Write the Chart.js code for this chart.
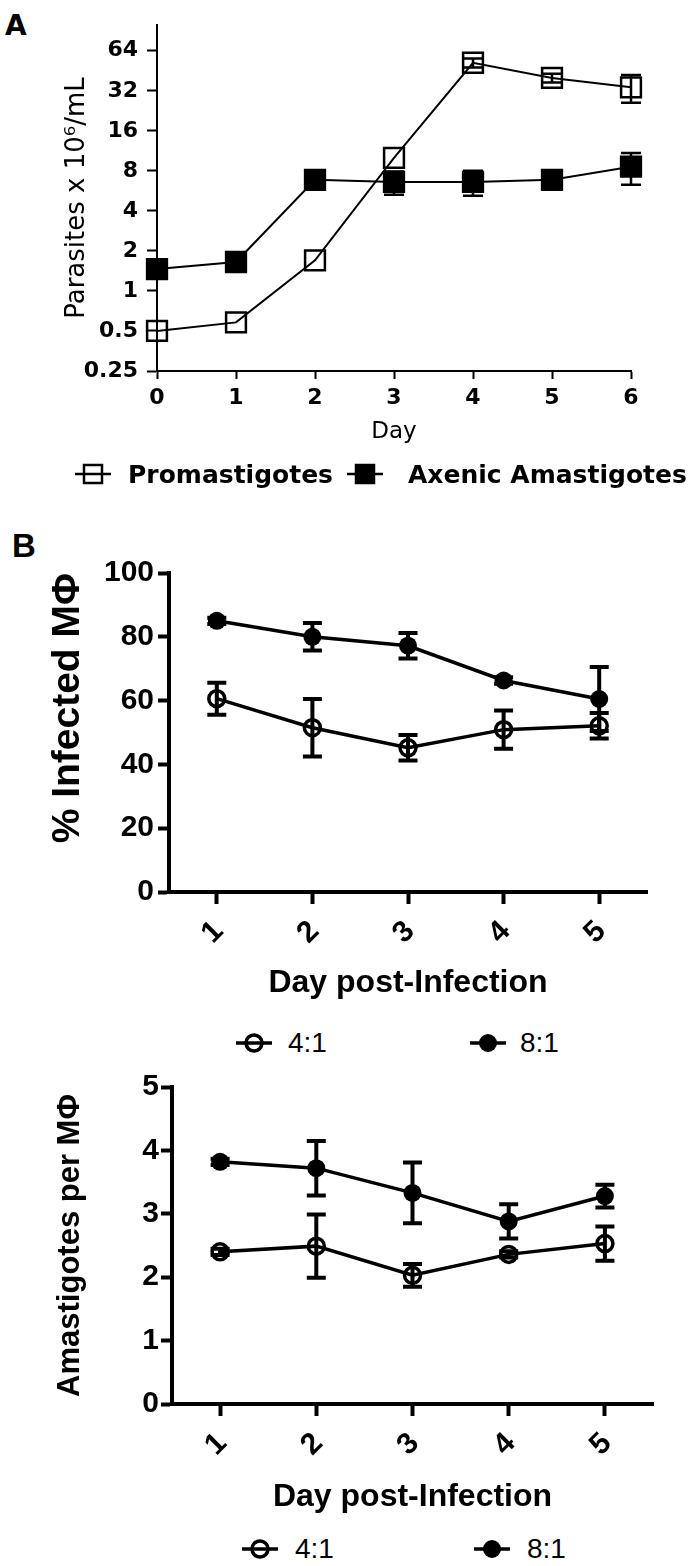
<!DOCTYPE html>
<html>
<head>
<meta charset="utf-8">
<script src="https://cdn.jsdelivr.net/npm/chart.js@4.4.1/dist/chart.umd.min.js"></script>
<style>
    body { margin: 0; background: #fff; }
    #page { position: relative; width: 700px; height: 1566px; overflow: hidden; background: #fff; }
    canvas { position: absolute; left: 0; }
    .letter { position: absolute; font-weight: bold; line-height: 1; color: #000; }
    .legend { position: absolute; height: 40px; display: flex; align-items: center; color: #000; line-height: 1; white-space: nowrap; }
    .legend-a { font-family: 'DejaVu Sans', sans-serif; font-weight: bold; font-size: 25px; }
    .legend-b { font-family: 'Liberation Sans', Arial, sans-serif; font-size: 28px; }
</style>
</head>
<body>
<div id="page">
    <div class="letter" style="left:5px; top:12px; font-family:'DejaVu Sans', sans-serif; font-size:28px;">A</div>
    <canvas id="chart-a" width="700" height="460" style="top:0px;"></canvas>

    <!-- panel A legend -->
    <div class="legend" style="left:75px; top:454px;">
        <svg width="36" height="26"><line x1="0" y1="13" x2="36" y2="13" stroke="#000" stroke-width="2.5"/><rect x="9" y="4" width="18" height="18" fill="none" stroke="#000" stroke-width="2.5"/></svg>
    </div>
    <div class="legend legend-a" style="left:128px; top:454px;">Promastigotes</div>
    <div class="legend" style="left:347px; top:454px;">
        <svg width="36" height="26"><line x1="0" y1="13" x2="36" y2="13" stroke="#000" stroke-width="2.5"/><rect x="9" y="4" width="18" height="18" fill="#000" stroke="#000" stroke-width="2.5"/></svg>
    </div>
    <div class="legend legend-a" style="left:408px; top:454px;">Axenic Amastigotes</div>

    <div class="letter" style="left:12px; top:529px; font-family:'Liberation Sans', Arial, sans-serif; font-size:33px;">B</div>
    <canvas id="chart-b1" width="700" height="490" style="top:520px;"></canvas>

    <!-- panel B1 legend -->
    <div class="legend" style="left:236px; top:1023px;">
        <svg width="36" height="26"><line x1="0" y1="13" x2="36" y2="13" stroke="#000" stroke-width="3.5"/><circle cx="18" cy="13" r="8" fill="none" stroke="#000" stroke-width="3.5"/></svg>
    </div>
    <div class="legend legend-b" style="left:288px; top:1023px;">4:1</div>
    <div class="legend" style="left:470px; top:1023px;">
        <svg width="36" height="26"><line x1="0" y1="13" x2="36" y2="13" stroke="#000" stroke-width="3.5"/><circle cx="18" cy="13" r="9" fill="#000"/></svg>
    </div>
    <div class="legend legend-b" style="left:520px; top:1023px;">8:1</div>

    <canvas id="chart-b2" width="700" height="480" style="top:1040px;"></canvas>

    <!-- panel B2 legend -->
    <div class="legend" style="left:242px; top:1529px;">
        <svg width="36" height="26"><line x1="0" y1="13" x2="36" y2="13" stroke="#000" stroke-width="3.5"/><circle cx="18" cy="13" r="8" fill="none" stroke="#000" stroke-width="3.5"/></svg>
    </div>
    <div class="legend legend-b" style="left:295px; top:1529px;">4:1</div>
    <div class="legend" style="left:474px; top:1529px;">
        <svg width="36" height="26"><line x1="0" y1="13" x2="36" y2="13" stroke="#000" stroke-width="3.5"/><circle cx="18" cy="13" r="9" fill="#000"/></svg>
    </div>
    <div class="legend legend-b" style="left:527px; top:1529px;">8:1</div>
</div>

<script>
// Panel A - parasite growth (log2 axis)
const daysA = ['0', '1', '2', '3', '4', '5', '6'];
const promastigotes = [0.5, 0.58, 1.7, 10, 52, 40, 34];
const promastigotesErr = [0, 0, 0, 0, 4, 3, 8];
const axenic = [1.46, 1.65, 6.85, 6.6, 6.6, 6.85, 8.6];
const axenicErr = [0.1, 0.1, 1.0, 1.3, 1.4, 0.4, 2.3];
const yTicksA = [0.25, 0.5, 1, 2, 4, 8, 16, 32, 64];
const yTickLabelsA = ['0.25', '0.5', '1', '2', '4', '8', '16', '32', '64'];

// Panel B - infection by MOI
const daysB = ['1', '2', '3', '4', '5'];
const infected41 = [60.6, 51.5, 45.2, 50.9, 52.1];
const infected41Err = [5, 9, 4, 6, 4];
const infected81 = [85, 80, 77.2, 66.3, 60.5];
const infected81Err = [1, 4.3, 4, 1, 10];
const amast41 = [2.4, 2.49, 2.03, 2.36, 2.53];
const amast41Err = [0.05, 0.5, 0.18, 0.05, 0.27];
const amast81 = [3.82, 3.72, 3.33, 2.88, 3.28];
const amast81Err = [0.05, 0.43, 0.48, 0.27, 0.18];

const SANS = "'Liberation Sans', Arial, sans-serif";
const DEJAVU = "'DejaVu Sans', sans-serif";

// Draws +/- error bars with caps, using the chart's own y scale
const errorBars = {
    id: 'errorBars',
    afterDatasetsDraw(chart) {
        const ctx = chart.ctx;
        const yScale = chart.scales.y;
        chart.data.datasets.forEach((ds, i) => {
            if (!ds.errors) return;
            const meta = chart.getDatasetMeta(i);
            ctx.save();
            ctx.strokeStyle = '#000';
            ctx.lineWidth = ds.errorWidth;
            meta.data.forEach((pt, j) => {
                const e = ds.errors[j];
                if (!e) return;
                const v = ds.data[j];
                const top = yScale.getPixelForValue(v + e);
                const bottom = yScale.getPixelForValue(v - e);
                const half = ds.capWidth / 2;
                ctx.beginPath();
                ctx.moveTo(pt.x, top);
                ctx.lineTo(pt.x, bottom);
                ctx.moveTo(pt.x - half, top);
                ctx.lineTo(pt.x + half, top);
                ctx.moveTo(pt.x - half, bottom);
                ctx.lineTo(pt.x + half, bottom);
                ctx.stroke();
            });
            ctx.restore();
        });
    }
};

function squareSet(label, data, errors, filled) {
    return {
        label: label,
        data: data,
        errors: errors,
        errorWidth: 2.5,
        capWidth: 20,
        borderColor: '#000',
        borderWidth: 2,
        pointStyle: 'rect',
        pointRadius: 14,
        pointBorderWidth: 2.5,
        pointBorderColor: '#000',
        pointBackgroundColor: filled ? '#000' : 'rgba(0,0,0,0)',
        clip: false
    };
}

function circleSet(label, data, errors, filled) {
    return {
        label: label,
        data: data,
        errors: errors,
        errorWidth: 4,
        capWidth: 19,
        borderColor: '#000',
        borderWidth: 3.5,
        pointStyle: 'circle',
        pointRadius: filled ? 9 : 8,
        pointBorderWidth: filled ? 0 : 3.5,
        pointBorderColor: '#000',
        pointBackgroundColor: filled ? '#000' : 'rgba(0,0,0,0)',
        clip: false
    };
}

// Panel A
new Chart(document.getElementById('chart-a'), {
    type: 'line',
    data: {
        labels: daysA,
        datasets: [
            squareSet('Promastigotes', promastigotes, promastigotesErr, false),
            squareSet('Axenic Amastigotes', axenic, axenicErr, true)
        ]
    },
    options: {
        responsive: false,
        animation: false,
        layout: { padding: { left: 62, right: 69, top: 25, bottom: 0 } },
        plugins: { legend: { display: false }, tooltip: { enabled: false } },
        scales: {
            x: {
                type: 'category',
                offset: false,
                border: { color: '#000', width: 2 },
                grid: { drawOnChartArea: false, tickLength: 8, tickColor: '#000', tickWidth: 2 },
                ticks: { color: '#000', font: { family: DEJAVU, size: 22, weight: 'bold' }, padding: 6, maxRotation: 0 },
                title: { display: true, text: 'Day', color: '#000', font: { family: DEJAVU, size: 23 }, padding: { top: 0, bottom: 14 } },
                afterFit: (scale) => { scale.height = 89; }
            },
            y: {
                type: 'logarithmic',
                min: 0.25,
                max: 100,
                afterBuildTicks: (scale) => { scale.ticks = yTicksA.map(v => ({ value: v })); },
                border: { color: '#000', width: 2 },
                grid: { drawOnChartArea: false, tickLength: 10, tickColor: '#000', tickWidth: 2 },
                ticks: { color: '#000', font: { family: DEJAVU, size: 22, weight: 'bold' }, padding: 9, callback: (v, i) => yTickLabelsA[i] },
                title: { display: true, text: 'Parasites x 10⁶/mL', color: '#000', font: { family: DEJAVU, size: 26 }, padding: { top: 0, bottom: 0 } },
                afterFit: (scale) => { scale.width = 95; }
            }
        }
    },
    plugins: [errorBars]
});

function panelB(canvasId, set41, err41, set81, err81, yMax, yStep, yTitle, titleSize, titleAlign, geo) {
    new Chart(document.getElementById(canvasId), {
        type: 'line',
        data: {
            labels: daysB,
            datasets: [
                circleSet('4:1', set41, err41, false),
                circleSet('8:1', set81, err81, true)
            ]
        },
        options: {
            responsive: false,
            animation: false,
            layout: { padding: { left: 40, right: geo.right, top: geo.top, bottom: 0 } },
            plugins: { legend: { display: false }, tooltip: { enabled: false } },
            scales: {
                x: {
                    type: 'category',
                    offset: true,
                    border: { color: '#000', width: 4 },
                    grid: { drawOnChartArea: false, offset: false, tickLength: 12, tickColor: '#000', tickWidth: 4 },
                    ticks: { color: '#000', font: { family: SANS, size: 30, weight: 'bold' }, padding: 10, minRotation: 45, maxRotation: 45, labelOffset: 2 },
                    title: { display: true, text: 'Day post-Infection', color: '#000', font: { family: SANS, size: 32, weight: 'bold' }, padding: { top: 0, bottom: geo.titleBottom } },
                    afterFit: (scale) => { scale.height = geo.xHeight; }
                },
                y: {
                    type: 'linear',
                    min: 0,
                    max: yMax,
                    border: { color: '#000', width: 4 },
                    grid: { drawOnChartArea: false, tickLength: 11, tickColor: '#000', tickWidth: 4 },
                    ticks: { color: '#000', stepSize: yStep, font: { family: SANS, size: 30, weight: 'bold' }, padding: geo.tickPad },
                    title: { display: true, text: yTitle, color: '#000', align: titleAlign, font: { family: SANS, size: titleSize, weight: 'bold' }, padding: { top: geo.titlePad, bottom: 0 } },
                    afterFit: (scale) => { scale.width = geo.yWidth; }
                }
            }
        },
        plugins: [errorBars]
    });
}

panelB('chart-b1', infected41, infected41Err, infected81, infected81Err, 100, 20, '% Infected MΦ', 39, 'end',
    { right: 53, top: 53, xHeight: 118, titleBottom: 8, yWidth: 129, titlePad: 5, tickPad: 4 });
panelB('chart-b2', amast41, amast41Err, amast81, amast81Err, 5, 1, 'Amastigotes per MΦ', 31, 'center',
    { right: 47, top: 47, xHeight: 116, titleBottom: 4, yWidth: 132, titlePad: 12, tickPad: 2 });
</script>
</body>
</html>
